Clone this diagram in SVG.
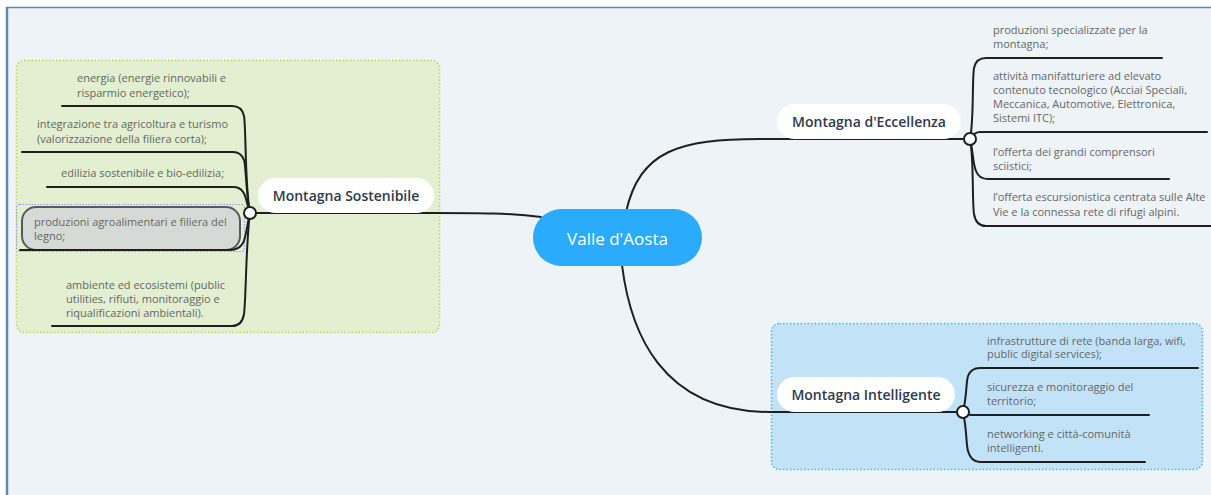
<svg xmlns="http://www.w3.org/2000/svg" width="1211" height="495" viewBox="0 0 1211 495">
<style>
.sub{font-family:"Open Sans","Noto Sans",sans-serif;font-size:11px;fill:#666}
.lbl{font-family:"Open Sans","Noto Sans",sans-serif;font-size:14px;font-weight:600;fill:#2f3a48;text-anchor:middle}
.pill{fill:#fff}
.ln{fill:none;stroke:#1f1f1f;stroke-width:2;stroke-linecap:round}
.dot{fill:#fff;stroke:#1f1f1f;stroke-width:2}
</style>
<rect x="0" y="0" width="1211" height="495" fill="#ffffff"/>
<rect x="7" y="7" width="1204" height="488" fill="#eef3f7"/>
<line x1="6" y1="7.5" x2="1211" y2="7.5" stroke="#5b87bf" stroke-width="1.5"/>
<line x1="7" y1="7" x2="7" y2="495" stroke="#5b87bf" stroke-width="2.5"/>

<g id="region-green">
<rect x="16.5" y="60.5" width="423" height="272" rx="8" fill="#e2efd0" stroke="#b8dc4e" stroke-width="1.5" stroke-dasharray="1.5 2"/>
</g>
<g id="region-blue">
<rect x="771.5" y="323.5" width="431" height="146" rx="8" fill="#c2e3f7" stroke="#4eb4f0" stroke-width="1.5" stroke-dasharray="1.5 2"/>
</g>

<g id="selection">
<rect x="16.5" y="204.5" width="228" height="47" rx="3" fill="none" stroke="#a394f0" stroke-width="1.2" stroke-dasharray="1.5 1.5"/>
<rect x="22" y="207" width="218" height="43" rx="14" fill="#d6dad6" stroke="#555b5e" stroke-width="2"/>
</g>

<g id="connectors">
<path class="ln" d="M541 217 C510 213 480 213 434 213 L250 213"/>
<path class="ln" d="M626 212 C640 150 680 139 760 139 L968 139"/>
<path class="ln" d="M622 265 C630 330 660 412 770 412 L961 412"/>
<!-- left spine -->
<path class="ln" d="M250 213 C245 190 246 125 244 116 Q242 106 232 106 L62 106"/>
<path class="ln" d="M250 213 C246 195 246 165 244 160 Q241 152 233 152 L22 152"/>
<path class="ln" d="M250 213 C247 205 246 195 243 192 Q240 187 233 187 L47 187"/>
<path class="ln" d="M250 213 C247 225 246 238 243 243 Q239 250 230 250 L20 250"/>
<path class="ln" d="M250 213 C246 240 246 300 244 314 Q242 326 232 326 L52 326"/>
<!-- right Eccellenza spine -->
<path class="ln" d="M970 139 C974 120 972 80 974 68 Q976 58 986 58 L1162 58"/>
<path class="ln" d="M970 139 C972 136 974 132 980 132 L1207 132"/>
<path class="ln" d="M970 139 C973 150 973 165 976 171 Q979 179 988 179 L1169 179"/>
<path class="ln" d="M970 139 C974 160 972 200 974 214 Q976 226 986 226 L1211 226"/>
<!-- right Intelligente spine -->
<path class="ln" d="M963 412 C967 395 966 382 968 376 Q971 368 980 368 L1198 368"/>
<path class="ln" d="M963 412 C965 414 967 415 972 415 L1149 415"/>
<path class="ln" d="M963 412 C967 430 966 445 968 451 Q971 462 980 462 L1145 462"/>
</g>

<g id="node-center">
<rect x="533" y="209" width="169" height="57" rx="28.5" fill="#2aabfb"/>
<text x="617.5" y="244.5" font-family="Open Sans, Noto Sans, sans-serif" font-size="17" fill="#fff" text-anchor="middle">Valle d'Aosta</text>
</g>

<g id="node-sostenibile">
<rect class="pill" x="258" y="178" width="176" height="35" rx="17.5"/>
<text class="lbl" x="346" y="200.5">Montagna Sostenibile</text>
<circle class="dot" cx="250" cy="213" r="6"/>
</g>

<g id="node-eccellenza">
<rect class="pill" x="777" y="104" width="184" height="35" rx="17.5"/>
<text class="lbl" x="869" y="126.5">Montagna d'Eccellenza</text>
<circle class="dot" cx="970" cy="139" r="6"/>
</g>

<g id="node-intelligente">
<rect class="pill" x="777" y="377" width="178" height="35" rx="17.5"/>
<text class="lbl" x="866" y="399.5">Montagna Intelligente</text>
<circle class="dot" cx="963" cy="412" r="6"/>
</g>

<g id="leaf-energia"><text class="sub" x="77" y="82"><tspan x="77">energia (energie rinnovabili e</tspan><tspan x="77" dy="14.5">risparmio energetico);</tspan></text></g>
<g id="leaf-integrazione"><text class="sub" x="37" y="128"><tspan x="37">integrazione tra agricoltura e turismo</tspan><tspan x="37" dy="14.5">(valorizzazione della filiera corta);</tspan></text></g>
<g id="leaf-edilizia"><text class="sub" x="61" y="177">edilizia sostenibile e bio-edilizia;</text></g>
<g id="leaf-produzioni-agro"><text class="sub" x="34" y="226"><tspan x="34">produzioni agroalimentari e filiera del</tspan><tspan x="34" dy="13.5">legno;</tspan></text></g>
<g id="leaf-ambiente"><text class="sub" x="66" y="289"><tspan x="66">ambiente ed ecosistemi (public</tspan><tspan x="66" dy="14">utilities, rifiuti, monitoraggio e</tspan><tspan x="66" dy="14">riqualificazioni ambientali).</tspan></text></g>

<g id="leaf-produzioni-spec"><text class="sub" x="993" y="34"><tspan x="993">produzioni specializzate per la</tspan><tspan x="993" dy="14">montagna;</tspan></text></g>
<g id="leaf-attivita"><text class="sub" x="993" y="80"><tspan x="993">attività manifatturiere ad elevato</tspan><tspan x="993" dy="14">contenuto tecnologico (Acciai Speciali,</tspan><tspan x="993" dy="14">Meccanica, Automotive, Elettronica,</tspan><tspan x="993" dy="14">Sistemi ITC);</tspan></text></g>
<g id="leaf-offerta-sci"><text class="sub" x="993" y="156"><tspan x="993">l’offerta dei grandi comprensori</tspan><tspan x="993" dy="14">sciistici;</tspan></text></g>
<g id="leaf-offerta-escursioni"><text class="sub" x="993" y="201"><tspan x="993">l’offerta escursionistica centrata sulle Alte</tspan><tspan x="993" dy="15">Vie e la connessa rete di rifugi alpini.</tspan></text></g>

<g id="leaf-infrastrutture"><text class="sub" x="987" y="345"><tspan x="987">infrastrutture di rete (banda larga, wifi,</tspan><tspan x="987" dy="13">public digital services);</tspan></text></g>
<g id="leaf-sicurezza"><text class="sub" x="987" y="391"><tspan x="987">sicurezza e monitoraggio del</tspan><tspan x="987" dy="14">territorio;</tspan></text></g>
<g id="leaf-networking"><text class="sub" x="987" y="438"><tspan x="987">networking e città-comunità</tspan><tspan x="987" dy="13.5">intelligenti.</tspan></text></g>
</svg>
